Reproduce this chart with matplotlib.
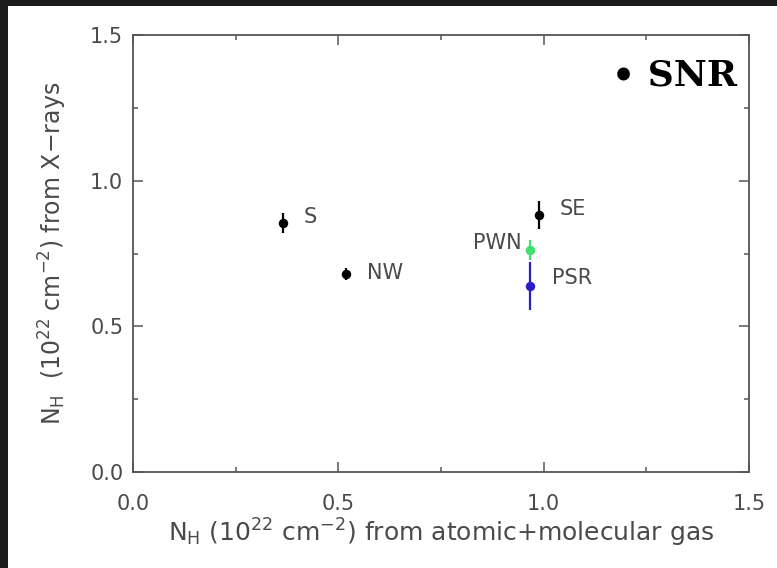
import matplotlib
matplotlib.use("Agg")
import matplotlib.pyplot as plt
from matplotlib.patches import Rectangle

# column densities: gas tracers (x) vs X-ray fits (y), units of 1e22 cm^-2
regions = ["S", "NW", "SE", "PWN", "PSR"]
nh_gas = [0.365, 0.519, 0.989, 0.967, 0.967]
nh_xray = [0.856, 0.68, 0.883, 0.763, 0.639]
nh_xray_err = [0.034, 0.02, 0.048, 0.035, 0.082]
colors = ["black", "black", "black", "#3ee070", "#2a1fc8"]
label_offsets = [(15, 4), (15, 1), (15, 4), (-6, 5), (16, 6)]
label_align = ["left", "left", "left", "right", "left"]

tick_vals = [0.0, 0.5, 1.0, 1.5]
tick_text = ["0.0", "0.5", "1.0", "1.5"]
minor_vals = [0.25, 0.75, 1.25]

fig = plt.figure(figsize=(7.77, 5.68), dpi=100)
fig.patch.set_facecolor("#1c1c1c")
fig.add_artist(Rectangle((8 / 777, 0), 1, 1 - 6 / 568, transform=fig.transFigure,
                         facecolor="white", edgecolor="none", zorder=0))

ax = fig.add_axes([133 / 777, 1 - 472 / 568, 616 / 777, 437 / 568])
ax.set_facecolor("white")

txt = "#4a4a4a"
for i in range(len(regions)):
    ax.errorbar(nh_gas[i], nh_xray[i], yerr=nh_xray_err[i], fmt="o",
                color=colors[i], ms=5.8, elinewidth=1.6, capsize=0, zorder=3)
    ax.annotate(regions[i], (nh_gas[i], nh_xray[i]), xytext=label_offsets[i],
                textcoords="offset points", ha=label_align[i], va="center",
                fontsize=15, color=txt)

ax.set_xlim(0, 1.5)
ax.set_ylim(0, 1.5)
ax.set_xticks(tick_vals)
ax.set_xticklabels(tick_text)
ax.set_yticks(tick_vals)
ax.set_yticklabels(tick_text)
ax.set_xticks(minor_vals, minor=True)
ax.set_yticks(minor_vals, minor=True)
ax.tick_params(which="both", direction="in", top=True, right=True,
               width=1.1, color="#555555")
ax.tick_params(which="major", length=7.5, labelsize=15, labelcolor=txt)
ax.tick_params(which="minor", length=3.5)
ax.tick_params(axis="x", which="major", pad=16)
ax.tick_params(axis="y", which="major", pad=7)
for s in ax.spines.values():
    s.set_color("#555555")
    s.set_linewidth(1.3)

ax.set_xlabel(r"N$_{\rm H}$ (10$^{22}$ cm$^{-2}$) from atomic+molecular gas",
              fontsize=18, color=txt, va="center")
ax.xaxis.set_label_coords(0.5, (472 - 533) / 437)
ax.set_ylabel(r"N$_{\rm H}$  (10$^{22}$ cm$^{-2}$) from X$-$rays",
              fontsize=17, color=txt, va="center")
ax.yaxis.set_label_coords((53 - 133) / 616, 0.5)

fig.text(737 / 777, 1 - 75 / 568, "\u2022 SNR", ha="right", va="center",
         fontsize=26, fontweight="bold", family="DejaVu Serif", color="black")

fig.savefig("out.png", dpi=100, facecolor=fig.get_facecolor())
